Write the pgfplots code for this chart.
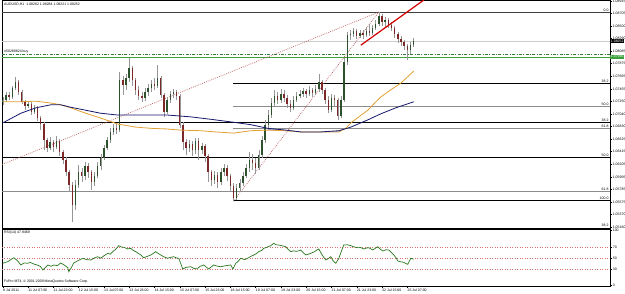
\documentclass[border=0pt]{standalone}
\usepackage{pgfplots}
\pgfplotsset{compat=1.18}
\usepackage{pgfplotstable}
\usepackage{fontspec}
\setmainfont{Liberation Sans}
\newcommand\mt{\fontsize{3.5}{4}\selectfont}
\definecolor{bull}{RGB}{45,80,45}
\definecolor{bear}{RGB}{125,40,40}
\definecolor{wick}{RGB}{150,150,150}
\definecolor{maora}{RGB}{226,160,50}
\definecolor{mablu}{RGB}{25,25,110}
\definecolor{fibgrey}{RGB}{140,140,140}
\definecolor{trendred}{RGB}{210,0,0}
\definecolor{dotpink}{RGB}{190,100,100}
\definecolor{ordgreen}{RGB}{60,160,60}
\definecolor{rsigreen}{RGB}{40,120,30}
\definecolor{lvl}{RGB}{215,110,110}

\pgfplotstableread{
b o h l c
0 1.0724 1.0732 1.0719 1.0727
2 1.0727 1.0740 1.0724 1.0735
4 1.0735 1.0740 1.0727 1.0732
6 1.0732 1.0750 1.0729 1.0747
8 1.0747 1.0765 1.0744 1.0757
10 1.0757 1.0760 1.0735 1.0740
12 1.0740 1.0744 1.0720 1.0724
14 1.0724 1.0727 1.0710 1.0717
16 1.0717 1.0725 1.0714 1.0720
18 1.0720 1.0724 1.0702 1.0707
20 1.0707 1.0719 1.0704 1.0714
22 1.0714 1.0717 1.0692 1.0697
24 1.0697 1.0700 1.0677 1.0687
26 1.0687 1.0690 1.0644 1.0661
28 1.0661 1.0664 1.0641 1.0647
30 1.0647 1.0666 1.0644 1.0657
32 1.0657 1.0661 1.0641 1.0649
34 1.0649 1.0667 1.0646 1.0659
36 1.0659 1.0662 1.0634 1.0641
38 1.0641 1.0644 1.0621 1.0627
40 1.0627 1.0632 1.0601 1.0607
42 1.0607 1.0611 1.0574 1.0586
44 1.0586 1.0591 1.0524 1.0553
46 1.0553 1.0594 1.0544 1.0586
48 1.0586 1.0619 1.0581 1.0607
50 1.0607 1.0614 1.0591 1.0601
52 1.0601 1.0624 1.0594 1.0617
54 1.0617 1.0622 1.0598 1.0607
56 1.0607 1.0611 1.0578 1.0591
58 1.0591 1.0607 1.0584 1.0601
60 1.0601 1.0624 1.0598 1.0617
62 1.0617 1.0637 1.0611 1.0631
64 1.0631 1.0652 1.0627 1.0647
66 1.0647 1.0666 1.0644 1.0661
68 1.0661 1.0680 1.0656 1.0674
70 1.0674 1.0687 1.0669 1.0680
72 1.0680 1.0689 1.0671 1.0677
74 1.0677 1.0774 1.0674 1.0760
76 1.0760 1.0767 1.0735 1.0752
78 1.0752 1.0770 1.0744 1.0764
80 1.0764 1.0797 1.0757 1.0780
82 1.0780 1.0783 1.0750 1.0760
84 1.0760 1.0764 1.0735 1.0744
86 1.0744 1.0750 1.0727 1.0734
88 1.0734 1.0740 1.0724 1.0730
90 1.0730 1.0747 1.0725 1.0740
92 1.0740 1.0754 1.0734 1.0747
94 1.0747 1.0760 1.0740 1.0754
96 1.0754 1.0764 1.0744 1.0750
98 1.0750 1.0785 1.0747 1.0764
100 1.0764 1.0767 1.0730 1.0735
102 1.0735 1.0739 1.0699 1.0707
104 1.0707 1.0732 1.0704 1.0727
106 1.0727 1.0742 1.0722 1.0737
108 1.0737 1.0745 1.0730 1.0740
110 1.0740 1.0744 1.0727 1.0734
112 1.0734 1.0737 1.0680 1.0686
114 1.0686 1.0690 1.0644 1.0657
116 1.0657 1.0662 1.0636 1.0647
118 1.0647 1.0661 1.0641 1.0654
120 1.0654 1.0659 1.0634 1.0644
122 1.0644 1.0664 1.0637 1.0659
124 1.0659 1.0664 1.0627 1.0644
126 1.0644 1.0656 1.0637 1.0651
128 1.0651 1.0654 1.0624 1.0634
130 1.0634 1.0637 1.0591 1.0607
132 1.0607 1.0611 1.0584 1.0594
134 1.0594 1.0609 1.0588 1.0603
136 1.0603 1.0607 1.0581 1.0591
138 1.0591 1.0614 1.0586 1.0607
140 1.0607 1.0621 1.0601 1.0614
142 1.0614 1.0619 1.0593 1.0601
144 1.0601 1.0604 1.0574 1.0584
146 1.0584 1.0589 1.0559 1.0564
148 1.0564 1.0588 1.0561 1.0581
150 1.0581 1.0596 1.0574 1.0589
152 1.0589 1.0607 1.0584 1.0601
154 1.0601 1.0621 1.0598 1.0614
156 1.0614 1.0641 1.0607 1.0627
158 1.0627 1.0637 1.0611 1.0622
160 1.0622 1.0631 1.0604 1.0614
162 1.0614 1.0644 1.0611 1.0636
164 1.0636 1.0667 1.0631 1.0661
166 1.0661 1.0694 1.0656 1.0686
168 1.0686 1.0710 1.0677 1.0702
170 1.0702 1.0730 1.0697 1.0722
172 1.0722 1.0744 1.0717 1.0734
174 1.0734 1.0740 1.0720 1.0727
176 1.0727 1.0745 1.0722 1.0737
178 1.0737 1.0744 1.0724 1.0730
180 1.0730 1.0735 1.0714 1.0720
182 1.0720 1.0727 1.0707 1.0714
184 1.0714 1.0734 1.0710 1.0727
186 1.0727 1.0740 1.0724 1.0734
188 1.0734 1.0744 1.0730 1.0737
190 1.0737 1.0747 1.0732 1.0742
192 1.0742 1.0745 1.0730 1.0737
194 1.0737 1.0750 1.0734 1.0744
196 1.0744 1.0747 1.0732 1.0739
198 1.0739 1.0752 1.0735 1.0745
200 1.0745 1.0770 1.0740 1.0757
202 1.0757 1.0760 1.0737 1.0744
204 1.0744 1.0747 1.0720 1.0727
206 1.0727 1.0734 1.0705 1.0710
208 1.0710 1.0737 1.0707 1.0730
210 1.0730 1.0735 1.0717 1.0727
212 1.0727 1.0730 1.0694 1.0700
214 1.0700 1.0734 1.0697 1.0727
216 1.0727 1.0797 1.0724 1.0790
218 1.0790 1.0840 1.0785 1.0835
220 1.0835 1.0843 1.0827 1.0837
222 1.0837 1.0846 1.0832 1.0841
224 1.0841 1.0845 1.0828 1.0833
226 1.0833 1.0843 1.0830 1.0838
228 1.0838 1.0843 1.0828 1.0835
230 1.0835 1.0848 1.0832 1.0841
232 1.0841 1.0853 1.0833 1.0838
234 1.0838 1.0851 1.0835 1.0846
236 1.0846 1.0860 1.0843 1.0853
238 1.0853 1.0873 1.0850 1.0866
240 1.0866 1.0870 1.0850 1.0856
242 1.0856 1.0865 1.0848 1.0860
244 1.0860 1.0863 1.0846 1.0851
246 1.0851 1.0856 1.0841 1.0846
248 1.0846 1.0850 1.0830 1.0837
250 1.0837 1.0840 1.0822 1.0828
252 1.0828 1.0833 1.0817 1.0823
254 1.0823 1.0827 1.0810 1.0817
256 1.0817 1.0820 1.0793 1.0810
258 1.0810 1.0823 1.0803 1.0818
260 1.0818 1.0830 1.0815 1.0825
}\candles

\begin{document}
\begin{tikzpicture}[x=1pt,y=1pt]
\useasboundingbox (0,0) rectangle (625,293);
\fill[white] (0,0) rectangle (625,293);
\begin{axis}[
  at={(2pt,65pt)}, anchor=south west, scale only axis,
  width=608pt, height=227.4pt,
  xmin=-0.5, xmax=384.3, ymin=1.051452, ymax=1.0892,
  axis line style={black, line width=0.5pt},
  xtick=\empty,
  ytick={1.05160,1.05370,1.05575,1.05785,1.05995,1.06205,1.06415,1.06625,1.06830,1.07040,1.07250,1.07455,1.07665,1.07875,1.08085,1.08290,1.08500,1.08705,1.08915},
  yticklabels={1.05160,1.05370,1.05575,1.05785,1.05995,1.06205,1.06415,1.06625,1.06830,1.07040,1.07250,1.07455,1.07665,1.07875,1.08085,1.08290,1.08500,1.08705,1.08915},
  ytick pos=right, yticklabel pos=right,
  tick align=outside, major tick length=2pt,
  tick style={black, line width=0.4pt},
  yticklabel style={font=\mt, anchor=west, inner sep=0.6pt},
]
% Fibonacci levels
\addplot[black!75, line width=0.7pt] coordinates {(-0.5,1.0873) (384.3,1.0873)};
\addplot[black, line width=0.6pt] coordinates {(146,1.0754) (384.3,1.0754)};
\addplot[fibgrey, line width=0.9pt] coordinates {(146,1.0717) (384.3,1.0717)};
\addplot[black, line width=0.6pt] coordinates {(-0.5,1.0690) (384.3,1.0690)};
\addplot[fibgrey, line width=0.9pt] coordinates {(146,1.0680) (384.3,1.0680)};
\addplot[black, line width=0.6pt] coordinates {(-0.5,1.0632) (384.3,1.0632)};
\addplot[fibgrey, line width=0.9pt] coordinates {(-0.5,1.0576) (384.3,1.0576)};
\addplot[black, line width=0.6pt] coordinates {(146,1.0561) (384.3,1.0561)};
% bid line and order lines
\addplot[black!20, line width=0.6pt] coordinates {(-0.5,1.0825) (384.3,1.0825)};
\addplot[ordgreen, line width=1.4pt] coordinates {(-0.5,1.0798) (384.3,1.0798)};
\addplot[ordgreen!80!black, line width=0.45pt, dash pattern=on 3pt off 1.5pt on 0.8pt off 1.5pt] coordinates {(-0.5,1.0803) (384.3,1.0803)};
% dotted fibo base lines
\addplot[dotpink, line width=0.7pt, dash pattern=on 0.8pt off 1.2pt] coordinates {(-0.5,1.0620) (238,1.0873)};
\addplot[dotpink, line width=0.7pt, dash pattern=on 0.8pt off 1.2pt] coordinates {(146,1.0559) (238,1.0873)};
% candles: wicks
\addplot[draw=none, mark=none, forget plot,
  error bars/.cd, y dir=both, y explicit, error mark=none,
  error bar style={draw=wick, line width=0.45pt}]
  table[x=b, y expr={(\thisrow{h}+\thisrow{l})/2}, y error expr={(\thisrow{h}-\thisrow{l})/2}] {\candles};
% bull bodies
\addplot[draw=none, mark=none, forget plot,
  error bars/.cd, y dir=both, y explicit, error mark=none,
  error bar style={draw=bull, line width=1.4pt}]
  table[x=b, y expr={(\thisrow{o}+\thisrow{c})/2}, y error expr={max(\thisrow{c}-\thisrow{o},0)/2}] {\candles};
% bear bodies
\addplot[draw=none, mark=none, forget plot,
  error bars/.cd, y dir=both, y explicit, error mark=none,
  error bar style={draw=bear, line width=1.4pt}]
  table[x=b, y expr={(\thisrow{o}+\thisrow{c})/2}, y error expr={max(\thisrow{o}-\thisrow{c},0)/2}] {\candles};
% band between the moving averages
\addplot[fill={rgb,255:red,140;green,150;blue,210}, fill opacity=0.8, draw=none] coordinates {
(167.7,1.0680) (179.1,1.0677) (188.6,1.0674) (201.3,1.0674) (212.7,1.0676) (216,1.0679)
(212.7,1.0674) (201.3,1.0674) (188.6,1.0674) (179.1,1.0676) (167.7,1.0677)} -- cycle;
% moving averages
\addplot[maora, line width=0.8pt] coordinates {
(0,1.0724) (9.5,1.0724) (20.9,1.0725) (30.4,1.0722) (36.7,1.0719) (43,1.0714)
(52.5,1.0705) (62,1.0697) (72.8,1.0687) (84.2,1.0682) (93.7,1.0680) (103.2,1.0679)
(112.7,1.0677) (125.3,1.0676) (134.8,1.0674) (146.2,1.0672) (157,1.0676) (167.7,1.0677)
(179.1,1.0676) (188.6,1.0674) (201.3,1.0674) (212.7,1.0674) (217.1,1.0680) (220.3,1.0689)
(225.3,1.0699) (231,1.0710) (236.1,1.0724) (239.2,1.0732) (245.6,1.0744) (251.9,1.0755) (260.1,1.0775)};
\addplot[mablu, line width=0.8pt] coordinates {
(0,1.0689) (11.4,1.0705) (20.9,1.0714) (30.4,1.0719) (36.7,1.0719) (43,1.0715)
(52.5,1.0710) (62,1.0705) (72.8,1.0702) (87.3,1.0702) (104.4,1.0702) (119,1.0699)
(131.6,1.0695) (146.2,1.0690) (157,1.0686) (167.7,1.0680) (179.1,1.0677) (188.6,1.0674)
(201.3,1.0674) (212.7,1.0676) (220.3,1.0682) (231,1.0694) (239.2,1.0704) (248.7,1.0714) (260.1,1.0724)};
% red trend line
\addplot[trendred, line width=1.2pt] coordinates {(226.6,1.0818) (266.5,1.0893)};
\end{axis}

% RSI window
\begin{axis}[
  at={(2pt,7pt)}, anchor=south west, scale only axis,
  width=608pt, height=57pt,
  xmin=-0.5, xmax=384.3, ymin=-0.9, ymax=102.7,
  axis line style={black, line width=0.5pt},
  ytick={0,30,50,70,100}, yticklabels={0,30,50,70,100},
  ytick pos=right, yticklabel pos=right,
  xtick={0,16,32,48,64,80,96,112,128,144,160,176,192,208,224,240,256},
  xticklabels={8 Jul 2011,11 Jul 07:00,11 Jul 23:00,12 Jul 15:00,13 Jul 07:00,13 Jul 23:00,14 Jul 15:00,15 Jul 07:00,15 Jul 23:00,18 Jul 15:00,19 Jul 07:00,19 Jul 23:00,20 Jul 15:00,21 Jul 07:00,21 Jul 23:00,22 Jul 15:00,25 Jul 07:00},
  xtick pos=bottom,
  tick align=outside, major tick length=2pt,
  tick style={black, line width=0.4pt},
  yticklabel style={font=\mt, anchor=west, inner sep=0.6pt},
  xticklabel style={font=\mt, anchor=north west, inner sep=0.5pt, xshift=-0.4pt},
]
\addplot[lvl, dotted, line width=0.5pt] coordinates {(-0.5,70) (384.3,70)};
\addplot[lvl, dotted, line width=0.5pt] coordinates {(-0.5,50) (384.3,50)};
\addplot[lvl, dotted, line width=0.5pt] coordinates {(-0.5,30) (384.3,30)};
\addplot[rsigreen, line width=0.7pt] coordinates {
(0,40.4) (1.5,42) (3.2,43.3) (5,47) (7,50.5) (8.5,47) (9.5,44.5) (11.4,37.3) (13.5,41)
(15.8,40.4) (17.5,42) (19.6,39.1) (22,37) (24,34.2) (25.3,28.2) (27,33) (28.5,37.3)
(30.5,35) (32.3,37.3) (34.5,36) (36.7,40.9) (39,37) (41.1,32.4) (41.8,25.1) (43.5,33)
(44.9,40.9) (47.5,45) (50.6,49.5) (53,47) (55.7,46.4) (58,50) (60.1,52.4) (62,49.5)
(64,54) (66.5,58.5) (68,57) (69.6,61.5) (71.5,66) (73.4,72.4) (75,70) (76.6,69.5)
(79,66.5) (81,67.6) (82.5,64) (84.2,61.5) (86,58) (87.3,55.5) (89.2,50.5) (91.5,53)
(93.7,55.5) (95,58) (96.8,61.5) (98.5,58) (100,55.5) (102,52) (104.4,49.5) (106,51)
(108.2,52.4) (110,50) (111.4,49.5) (113.9,30) (116,33) (119,34.2) (121,31) (123.4,31.3)
(125,35) (127.2,37.3) (129,33) (130.4,30) (132,34) (133.5,37.3) (136,35) (138,34.2)
(141,36) (144.3,37.3) (145.6,30) (147.5,40.4) (149,44) (150.6,49.5) (153,47) (155,49.5)
(157,53) (158.9,55.5) (160.5,58) (162,61.5) (164,64) (165.2,67.6) (167.5,70) (169.6,72.4)
(171.5,76.7) (173,74) (174.7,73.6) (177,72) (179.1,70.5) (180.5,66) (182.3,61.5) (184,63)
(186,62) (188.6,64.5) (190,60) (191.8,55.5) (193.5,57) (194.9,58.5) (197,61) (198.5,64)
(200,66.4) (202,56) (204.4,46.4) (206,49) (207.6,52.4) (209,45) (210.8,40.4) (212.7,49.5)
(214,60) (215.8,73.6) (218,74) (220.3,72.4) (222.5,70) (224.7,68.7) (226.5,69) (228.5,66.4)
(230,68) (231.6,68.7) (234.2,64.5) (235.5,67) (237.3,70.5) (239,66) (240.5,62.7) (242.5,65)
(244.3,64.5) (246,60) (247.5,55.5) (249,50) (250,44.5) (252,43) (253.8,42.2) (255,40)
(256.3,38.5) (258.2,49.5) (260.1,47.9)};
\end{axis}

% texts
\node[font=\mt, anchor=west, inner sep=0pt] at (4,288.5) {AUDUSD,H1\ \ 1.08262 1.08284 1.08221 1.08252};
\node[font=\mt, anchor=west, inner sep=0pt] at (4,241) {\#50289824 buy};
\node[font=\mt, anchor=west, inner sep=0pt] at (4,60) {RSI(14) 47.9469};
\node[font=\mt, anchor=west, inner sep=0pt] at (4,11) {FxPro MT4, © 2001-2009 MetaQuotes Software Corp.};
% fibo level texts
\node[font=\mt, anchor=south east, inner sep=0.3pt] at (609,281) {0.0};
\node[font=\mt, anchor=south east, inner sep=0.3pt] at (609,210) {38.2};
\node[font=\mt, anchor=south east, inner sep=0.3pt] at (609,187) {50.0};
\node[font=\mt, anchor=south east, inner sep=0.3pt] at (609,171) {38.2};
\node[font=\mt, anchor=south east, inner sep=0.3pt] at (609,165) {61.8};
\node[font=\mt, anchor=south east, inner sep=0.3pt] at (609,136) {50.0};
\node[font=\mt, anchor=south east, inner sep=0.3pt] at (609,102) {61.8};
\node[font=\mt, anchor=south east, inner sep=0.3pt] at (609,93) {100.0};
\node[font=\mt, anchor=south east, inner sep=0.3pt] at (609,65.5) {38.2};
% price boxes
\node[font=\mt, anchor=west, fill=black, text=white, inner sep=0.7pt] at (610,252) {1.08252};
\node[font=\mt, anchor=west, fill=ordgreen, text=white, inner sep=0.7pt] at (610,236.3) {1.07986};
\end{tikzpicture}
\end{document}
